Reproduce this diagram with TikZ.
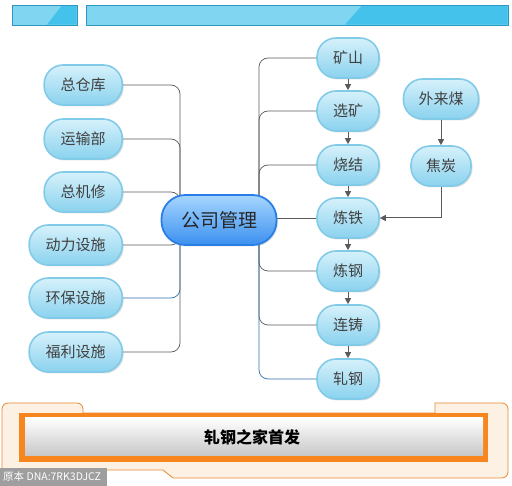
\documentclass[tikz,border=0pt]{standalone}
\usepackage{fontspec}
\setmainfont{Noto Sans CJK SC}
\usetikzlibrary{arrows.meta,shadows,backgrounds}
\definecolor{pilltop}{HTML}{D6F1FB}
\definecolor{pillbot}{HTML}{8AD2EE}
\definecolor{pillrim}{HTML}{82CBE8}
\definecolor{hubtop}{HTML}{A6D6FF}
\definecolor{hubbot}{HTML}{3C90F0}
\definecolor{hubrim}{HTML}{2A7FE6}
\definecolor{barlight}{HTML}{80D5F1}
\definecolor{bardark}{HTML}{45C2EB}
\definecolor{barrim}{HTML}{2C97BF}
\definecolor{linegray}{HTML}{5A5A5A}
\definecolor{lineblue}{HTML}{2F6FAE}
\definecolor{peach}{HTML}{FDF1E4}
\definecolor{rimorange}{HTML}{E48A35}
\definecolor{barorange}{HTML}{F7861E}
\tikzset{
  pill/.style={rectangle, rounded corners=19pt, draw=pillrim, line width=1.6pt,
    top color=pilltop, bottom color=pillbot, minimum height=40pt, text=black!75,
    font=\fontsize{15}{17}\selectfont,
    drop shadow={opacity=0.25, shadow xshift=1.5pt, shadow yshift=-1.5pt}},
  hubpill/.style={rectangle, rounded corners=24pt, draw=hubrim, line width=1.8pt,
    top color=hubtop, bottom color=hubbot, minimum width=115pt, minimum height=50pt,
    text=black!85, font=\fontsize{19}{21}\selectfont,
    drop shadow={opacity=0.25, shadow xshift=1.5pt, shadow yshift=-1.5pt}},
  link/.style={draw=linegray, line width=0.7pt, rounded corners=9pt},
  linkblue/.style={link, draw=lineblue},
  flow/.style={-{Triangle[length=6pt,width=6pt]}, draw=linegray, line width=1pt},
  topbar/.style={fill=barlight, draw=barrim, line width=0.8pt}
}
\begin{document}
\begin{tikzpicture}[x=1pt,y=-1pt]
\useasboundingbox (0,0) rectangle (512,486);

% top bars
\filldraw[topbar] (12,5) rectangle (77,25);
\fill[bardark] (62,5.4) -- (76.6,5.4) -- (76.6,24.6) -- (47,24.6) -- cycle;
\draw[barrim, line width=0.8pt] (12,5) rectangle (77,25);
\filldraw[topbar] (86,5) rectangle (508,25);
\fill[bardark] (362,5.4) -- (507.6,5.4) -- (507.6,24.6) -- (345,24.6) -- cycle;
\draw[barrim, line width=0.8pt] (86,5) rectangle (508,25);

% hub
\node[hubpill] (hub) at (219,220) {公司管理};

% left side
\node[pill, minimum width=78pt, anchor=east] (cangku) at (123,85) {总仓库};
\node[pill, minimum width=78pt, anchor=east] (yunshu) at (123,139) {运输部};
\node[pill, minimum width=78pt, anchor=east] (jixiu) at (123,192) {总机修};
\node[pill, minimum width=93pt, anchor=east] (dongli) at (123,245) {动力设施};
\node[pill, minimum width=93pt, anchor=east] (huanbao) at (123,298) {环保设施};
\node[pill, minimum width=93pt, anchor=east] (fuli) at (123,352) {福利设施};

% right side, the steel chain
\node[pill, minimum width=62pt] (kuangshan) at (348,58) {矿山};
\node[pill, minimum width=62pt] (xuankuang) at (348,111) {选矿};
\node[pill, minimum width=62pt] (shaojie) at (348,165) {烧结};
\node[pill, minimum width=62pt] (liantie) at (348,218) {炼铁};
\node[pill, minimum width=62pt] (liangang) at (348,271) {炼钢};
\node[pill, minimum width=62pt] (lianzhu) at (348,325) {连铸};
\node[pill, minimum width=62pt] (zhagang) at (348,379) {轧钢};
\node[pill, minimum width=75pt] (mei) at (441,99) {外来煤};
\node[pill, minimum width=60pt] (jiaotan) at (441,166) {焦炭};

% connectors
\coordinate (lj) at (180,220);
\coordinate (rj) at (259,220);
\begin{scope}[on background layer]
\draw[link] (lj) |- (cangku.east);
\draw[link] (lj) |- (yunshu.east);
\draw[link] (lj) |- (jixiu.east);
\draw[link] (lj) |- (dongli.east);
\draw[linkblue] (lj) |- (huanbao.east);
\draw[link] (lj) |- (fuli.east);
\draw[link] (rj) |- (kuangshan.west);
\draw[link] (rj) |- (xuankuang.west);
\draw[link] (rj) |- (shaojie.west);
\draw[link] (hub.east |- liantie.west) -- (liantie.west);
\draw[link] (rj) |- (liangang.west);
\draw[link] (rj) |- (lianzhu.west);
\draw[linkblue] (rj) |- (zhagang.west);
\end{scope}

\draw[flow] (kuangshan) -- (xuankuang);
\draw[flow] (xuankuang) -- (shaojie);
\draw[flow] (shaojie) -- (liantie);
\draw[flow] (liantie) -- (liangang);
\draw[flow] (liangang) -- (lianzhu);
\draw[flow] (lianzhu) -- (zhagang);
\draw[flow] (mei) -- (jiaotan);
\draw[flow] (jiaotan.south) |- (liantie.east);

% bottom panel
\filldraw[fill=peach, draw=rimorange, line width=0.8pt, rounded corners=6pt]
  (2,470) -- (2,403) -- (83,403) [sharp corners] -- (83,413) -- (435,413)
  -- (435,403) [rounded corners=6pt] -- (508,403) -- (508,478)
  [sharp corners] -- (173,478) -- (163,470) -- cycle;
\fill[barorange] (19,413) rectangle (488,462);
\shade[top color=white, bottom color=black!22] (25,418) rectangle (483,456);
\node[font=\fontsize{16}{18}\selectfont\bfseries] (title) at (252,437) {轧钢之家首发};

% mark
\fill[black!38] (0,468) rectangle (107,486);
\node[text=white, font=\fontsize{10.5}{12}\selectfont, anchor=west, inner sep=2pt] (dna) at (1,477) {原本 DNA:7RK3DJCZ};
\end{tikzpicture}
\end{document}
